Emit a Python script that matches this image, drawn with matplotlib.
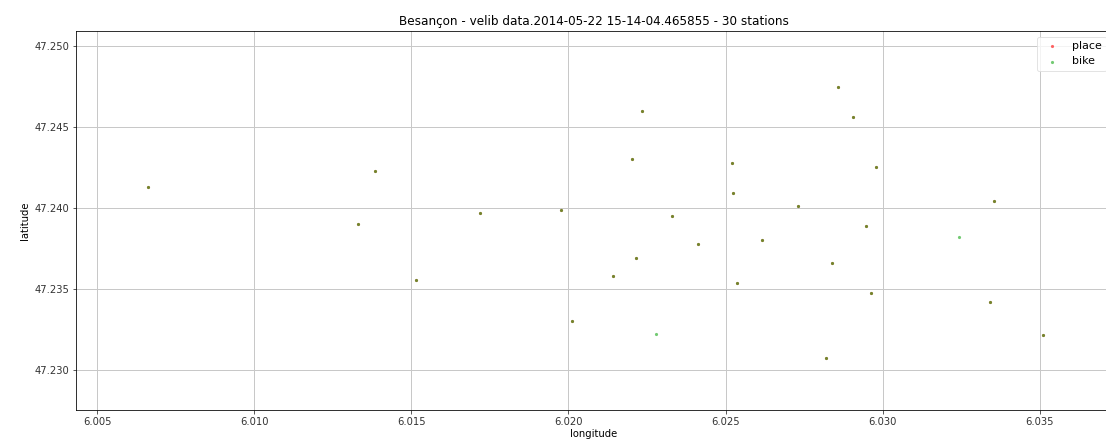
import matplotlib

matplotlib.use("Agg")
import matplotlib.pyplot as plt
import numpy as np

# station coordinates
longitude = [
    6.00663, 6.01332, 6.01386, 6.01514, 6.01718, 6.01976, 6.02011, 6.02142,
    6.02203, 6.02235, 6.02216, 6.02279, 6.02330, 6.02413, 6.02522, 6.02525,
    6.02537, 6.02617, 6.02731, 6.02819, 6.02840, 6.02857, 6.02907, 6.02948,
    6.02962, 6.02978, 6.03243, 6.03355, 6.03341, 6.03509,
]
latitude = [
    47.24130, 47.23901, 47.24228, 47.23556, 47.23969, 47.23988, 47.23302, 47.23580,
    47.24302, 47.24599, 47.23691, 47.23222, 47.23951, 47.23778, 47.24278, 47.24091,
    47.23537, 47.23802, 47.24014, 47.23074, 47.23662, 47.24747, 47.24562, 47.23889,
    47.23473, 47.24253, 47.23819, 47.24041, 47.23418, 47.23216,
]
# 1 if the station has free places / bikes, 0 otherwise
has_place = [1] * 11 + [0] + [1] * 14 + [0] + [1] * 3
has_bike = [1] * 30

title = "Besançon - velib data.2014-05-22 15-14-04.465855 - 30 stations"

lon = np.array(longitude)
lat = np.array(latitude)
place = np.array(has_place, dtype=bool)
bike = np.array(has_bike, dtype=bool)

fig = plt.figure(figsize=(1106 / 72, 446 / 72), dpi=72)
ax = fig.add_axes([76 / 1106, 36 / 446, 1036 / 1106, 379 / 446])
ax.scatter(lon[place], lat[place], c="#ff0000", s=10, alpha=0.6, linewidths=0, label="place")
ax.scatter(lon[bike], lat[bike], c="#00a000", s=10, alpha=0.55, linewidths=0, label="bike")

ax.set_xlim(6.00433, 6.03730)
ax.set_ylim(47.22753, 47.25093)
ax.set_xticks([6.005, 6.010, 6.015, 6.020, 6.025, 6.030, 6.035])
ax.set_yticks([47.230, 47.235, 47.240, 47.245, 47.250])
ax.set_xticklabels([f"{v:.3f}" for v in ax.get_xticks()])
ax.set_yticklabels([f"{v:.3f}" for v in ax.get_yticks()])
ax.tick_params(labelsize=10, colors="#333333")
ax.set_xlabel("longitude", fontsize=10, labelpad=2)
ax.set_ylabel("latitude", fontsize=10)
ax.set_title(title, fontsize=12)
ax.grid(True, color="#c8c8c8", linewidth=1)
ax.set_axisbelow(True)
ax.legend(loc="upper right", fontsize=11, markerscale=1, scatterpoints=1,
          edgecolor="#dddddd")

fig.savefig("out.png", dpi=72)
plt.close(fig)
